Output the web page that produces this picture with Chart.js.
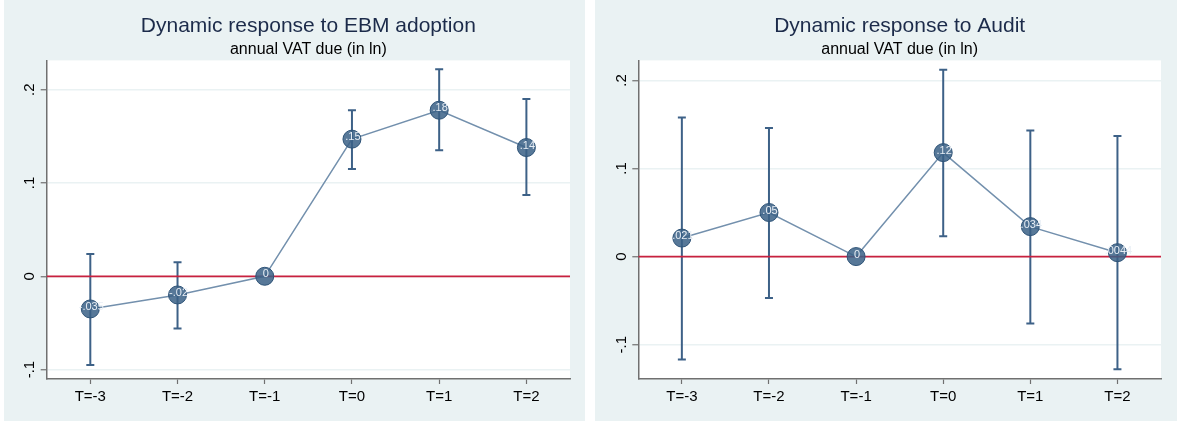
<!DOCTYPE html>
<html>
<head>
<meta charset="utf-8">
<script src="https://cdn.jsdelivr.net/npm/chart.js"></script>
<style>
  html, body { margin: 0; padding: 0; background: #ffffff; }
  body { width: 1177px; height: 423px; position: relative; overflow: hidden; }
  .panel { position: absolute; top: 0; height: 421px; background: #eaf2f3; }
  #leftPanel { left: 4px; width: 581px; }
  #rightPanel { left: 595px; width: 582px; }
  canvas { display: block; }
</style>
</head>
<body>
<div class="panel" id="leftPanel"><canvas id="ebmChart" width="581" height="421"></canvas></div>
<div class="panel" id="rightPanel"><canvas id="auditChart" width="582" height="421"></canvas></div>
<script>
const categories = ['T=-3', 'T=-2', 'T=-1', 'T=0', 'T=1', 'T=2'];
const yTicks = [-0.1, 0, 0.1, 0.2];

// EBM adoption: point estimates and 95% CI
const ebmCoef = [-0.035, -0.02, 0, 0.147, 0.178, 0.138];
const ebmLabels = ['-.035', '-.02', '0', '.15', '.18', '.14'];
const ebmLow = [-0.095, -0.056, null, 0.115, 0.135, 0.087];
const ebmHigh = [0.024, 0.015, null, 0.178, 0.222, 0.19];

// Audit: point estimates and 95% CI
const auditCoef = [0.021, 0.05, 0, 0.118, 0.034, 0.0044];
const auditLabels = ['.021', '.05', '0', '.12', '.034', '.0044'];
const auditLow = [-0.117, -0.047, null, 0.023, -0.076, -0.128];
const auditHigh = [0.158, 0.146, null, 0.212, 0.143, 0.137];

const refLine = 0;

const BG = '#eaf2f3';
const AXIS = '#707070';
const MARKER = 'rgba(58,96,134,0.85)';
const MARKER_EDGE = '#2f5478';
const CONNECT = '#7390ad';
const CI = '#3d6187';
const RED = '#c8213f';

Chart.defaults.font.family = '"Liberation Sans", Arial, sans-serif';

// white plot region, like Stata's plotregion
const plotArea = {
  id: 'plotArea',
  beforeDraw(chart) {
    const { ctx, chartArea } = chart;
    ctx.save();
    ctx.fillStyle = '#ffffff';
    ctx.fillRect(chartArea.left, chartArea.top, chartArea.width, chartArea.height);
    ctx.restore();
  }
};

const pointLabels = {
  id: 'pointLabels',
  afterDatasetsDraw(chart) {
    const meta = chart.getDatasetMeta(0);
    const labels = chart.data.datasets[0].valueLabels;
    const ctx = chart.ctx;
    ctx.save();
    ctx.font = '11px "Liberation Sans", Arial, sans-serif';
    ctx.fillStyle = '#e8eef5';
    ctx.textAlign = 'center';
    ctx.textBaseline = 'middle';
    meta.data.forEach((pt, i) => {
      ctx.fillText(labels[i], pt.x + 1, pt.y - 2);
    });
    ctx.restore();
  }
};

function makeChart(canvasId, title, coef, labels, low, high, yMin, yMax, yAxisWidth, padRight) {
  const datasets = [];
  datasets.push({
    data: coef.map((v, i) => ({ x: i, y: v })),
    valueLabels: labels,
    showLine: true,
    borderColor: CONNECT,
    borderWidth: 1.5,
    pointRadius: 9,
    pointHoverRadius: 9,
    pointBackgroundColor: MARKER,
    pointBorderColor: MARKER_EDGE,
    pointBorderWidth: 1,
    order: 1
  });
  datasets.push({
    data: [{ x: -0.5, y: refLine }, { x: categories.length - 0.5, y: refLine }],
    showLine: true,
    borderColor: RED,
    borderWidth: 1.8,
    pointRadius: 0,
    order: 2
  });
  low.forEach((lo, i) => {
    if (lo === null) return;
    datasets.push({
      data: [{ x: i, y: lo }, { x: i, y: high[i] }],
      showLine: true,
      borderColor: CI,
      borderWidth: 2,
      pointStyle: 'line',
      pointRadius: 4,
      pointHoverRadius: 4,
      pointBorderColor: CI,
      pointBorderWidth: 2,
      order: 3
    });
  });

  return new Chart(document.getElementById(canvasId), {
    type: 'scatter',
    data: { datasets },
    plugins: [plotArea, pointLabels],
    options: {
      responsive: false,
      animation: false,
      devicePixelRatio: 1,
      layout: { padding: { left: 0, right: padRight, top: 0, bottom: 0 } },
      plugins: {
        legend: { display: false },
        tooltip: { enabled: false },
        title: {
          display: true,
          text: title,
          fullSize: false,
          color: '#1c2b4a',
          font: { size: 21, weight: 'normal' },
          padding: { top: 14, bottom: 0 }
        },
        subtitle: {
          display: true,
          text: 'annual VAT due (in ln)',
          fullSize: false,
          color: '#000000',
          font: { size: 16, weight: 'normal' },
          padding: { top: 1, bottom: 1 }
        }
      },
      scales: {
        x: {
          type: 'linear',
          min: -0.5,
          max: categories.length - 0.5,
          afterBuildTicks: (scale) => {
            scale.ticks = categories.map((c, i) => ({ value: i }));
          },
          afterFit: (scale) => { scale.height = 42; },
          border: { display: true, color: AXIS, width: 1.5 },
          grid: { drawOnChartArea: false, drawTicks: true, tickLength: 5, tickColor: AXIS, tickWidth: 1.2 },
          ticks: {
            color: '#000000',
            font: { size: 15 },
            padding: 4,
            maxRotation: 0,
            minRotation: 0,
            callback: (v) => categories[v]
          }
        },
        y: {
          type: 'linear',
          min: yMin,
          max: yMax,
          afterBuildTicks: (scale) => {
            scale.ticks = yTicks.map((v) => ({ value: v }));
          },
          afterFit: (scale) => { scale.width = yAxisWidth; },
          border: { display: true, color: AXIS, width: 1.5 },
          grid: { color: BG, lineWidth: 1.5, drawTicks: true, tickLength: 6, tickColor: AXIS, tickWidth: 1.2 },
          ticks: {
            color: '#000000',
            font: { size: 15 },
            padding: 2,
            minRotation: 90,
            maxRotation: 90,
            crossAlign: 'center',
            callback: (v) => (v === 0 ? '0' : String(v).replace('0.', '.'))
          }
        }
      }
    }
  });
}

makeChart('ebmChart', 'Dynamic response to EBM adoption', ebmCoef, ebmLabels, ebmLow, ebmHigh, -0.1101, 0.2314, 42.7, 15);
makeChart('auditChart', 'Dynamic response to Audit', auditCoef, auditLabels, auditLow, auditHigh, -0.139, 0.2227, 43.3, 16);
</script>
</body>
</html>
